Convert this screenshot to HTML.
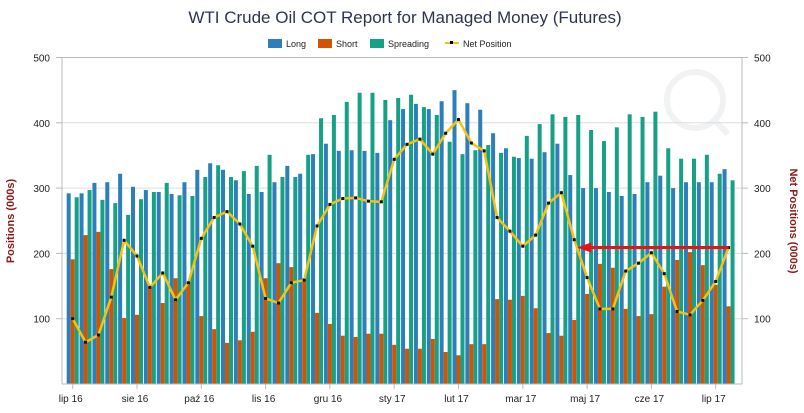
<!DOCTYPE html>
<html><head><meta charset="utf-8"><style>
body{margin:0;background:#fff;font-family:"Liberation Sans",sans-serif}
</style></head><body>
<svg id="chart" width="804" height="408" xmlns="http://www.w3.org/2000/svg" font-family="Liberation Sans, sans-serif">
<text x="405" y="23" text-anchor="middle" font-size="17" fill="#2c3450">WTI Crude Oil COT Report for Managed Money (Futures)</text>
<g font-size="9" fill="#222">
<rect x="268" y="39" width="14" height="9" fill="#2c7fb8"/><text x="286" y="47">Long</text>
<rect x="318" y="39" width="14" height="9" fill="#d35400"/><text x="336" y="47">Short</text>
<rect x="370" y="39" width="14" height="9" fill="#16a085"/><text x="388" y="47">Spreading</text>
<line x1="445" y1="43" x2="459" y2="43" stroke="#f1c40f" stroke-width="2"/><rect x="450" y="41" width="3" height="3" fill="#000"/><text x="463" y="47">Net Position</text>
</g>
<g id="watermark" opacity="0.12" stroke="#8899aa" fill="none" stroke-width="6"><circle cx="695" cy="100" r="28"/><line x1="712" y1="118" x2="728" y2="134"/></g>
<g id="grid"></g><g id="bars"></g><g id="line"></g><g id="axes"></g>
<text transform="translate(14,221) rotate(-90)" text-anchor="middle" font-size="11" font-weight="bold" fill="#8b1a1a">Positions (000s)</text>
<text transform="translate(790,221) rotate(90)" text-anchor="middle" font-size="11" font-weight="bold" fill="#8b1a1a">Net Positions (000s)</text>
</svg>
<script>
const longVals=[292,292,308,309,322,302,297,294,291,309,328,338,328,312,291,294,309,334,322,352,368,357,358,357,354,404,421,429,421,433,450,430,420,384,361,346,345,355,368,320,300,300,294,288,291,309,319,300,309,309,309,329];
const shortVals=[191,228,233,176,101,106,149,124,162,156,104,84,63,67,80,162,185,179,162,109,92,74,72,77,77,60,54,54,69,49,44,61,61,130,129,135,116,78,74,98,138,184,178,115,104,107,149,190,202,182,152,119];
const spreadVals=[286,297,282,277,259,283,294,308,289,288,317,335,317,326,334,351,317,317,351,407,412,432,446,446,435,438,443,424,412,371,352,358,366,354,348,380,398,413,409,412,389,372,393,413,409,417,361,345,345,351,322,312];
const netVals=[100,64,75,133,220,196,148,170,129,155,223,255,264,245,211,131,124,155,159,242,275,284,285,280,279,344,367,375,352,384,405,369,357,255,234,211,228,277,293,221,163,115,115,173,185,201,169,111,106,128,157,209];
const tickLabels=["lip 16","sie 16","paź 16","lis 16","gru 16","sty 17","lut 17","mar 17","maj 17","cze 17","lip 17"];
const yTicks=[100,200,300,400,500];
const NS="http://www.w3.org/2000/svg";
const X0=72.7,STEP=12.86,Y0=384,K=0.653;
const xs=i=>X0+i*STEP, ys=v=>Y0-v*K;
function mk(tag,attrs,parent){const e=document.createElementNS(NS,tag);for(const k in attrs)e.setAttribute(k,attrs[k]);document.getElementById(parent).appendChild(e);return e;}
yTicks.forEach(v=>{
 const g=mk('line',{x1:62,x2:742,y1:ys(v),y2:ys(v),stroke:v===500?'#bbb':'#ddd','stroke-width':1},'grid');
 
 
 const l=mk('text',{x:50,y:ys(v)+4,'text-anchor':'end','font-size':10,fill:'#222'},'axes');l.textContent=v;
 
 
 const r=mk('text',{x:754,y:ys(v)+4,'font-size':10,fill:'#222'},'axes');r.textContent=v;
 
 
 mk('line',{x1:56,x2:62,y1:ys(v),y2:ys(v),stroke:'#bbb'},'axes');
 mk('line',{x1:742,x2:748,y1:ys(v),y2:ys(v),stroke:'#bbb'},'axes');
});
mk('line',{x1:62,x2:62,y1:58,y2:384,stroke:'#bbb'},'axes');
mk('line',{x1:742,x2:742,y1:58,y2:384,stroke:'#bbb'},'axes');
mk('line',{x1:62,x2:742,y1:384,y2:384,stroke:'#bbb'},'axes');
tickLabels.forEach((t,j)=>{
 const x=xs(j*5);
 mk('line',{x1:x,x2:x,y1:384,y2:389,stroke:'#bbb'},'axes');
 const e=mk('text',{x:x-2,y:402,'text-anchor':'middle','font-size':10,fill:'#222'},'axes');e.textContent=t;
 
 
});
const series=[[longVals,'#2c7fb8',-6,'bar-long'],[shortVals,'#d35400',-2,'bar-short'],[spreadVals,'#16a085',2,'bar-spreading']];
series.forEach(([arr,col,off,name])=>arr.forEach((v,i)=>{
 const r=mk('rect',{x:xs(i)+off,y:ys(v),width:4,height:v*K,fill:col},'bars');
 
 
}));
const pl=mk('polyline',{points:netVals.map((v,i)=>xs(i)+','+ys(v)).join(' '),fill:'none',stroke:'#f1c40f','stroke-width':2.5},'line');


netVals.forEach((v,i)=>{
 const m=mk('rect',{x:xs(i)-1.5,y:ys(v)-1.5,width:3,height:3,fill:'#111'},'line');
 
 
});
const last=netVals.length-1, ay=ys(netVals[last]);
const ax1=xs(last), ax2=xs(39)+3;
const al=mk('line',{x1:ax1,x2:ax2+12,y1:ay,y2:ay,stroke:'#ee1111','stroke-width':3},'line');


const ah=mk('polygon',{points:`${ax2},${ay} ${ax2+14},${ay-5} ${ax2+14},${ay+5}`,fill:'#ee1111'},'line');


</script>
</body></html>
